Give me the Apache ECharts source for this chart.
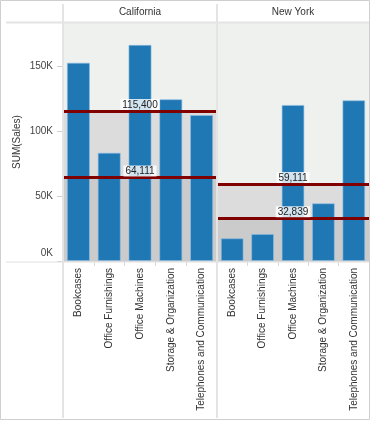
<!DOCTYPE html>
<html>
<head>
<meta charset="utf-8">
<script src="https://cdn.jsdelivr.net/npm/echarts@6/dist/echarts.min.js"></script>
<style>
html,body{margin:0;padding:0;background:#fff;}
#chart{width:372px;height:421px;}
</style>
</head>
<body>
<div id="chart"></div>
<script>
const categories = ['Bookcases', 'Office Furnishings', 'Office Machines', 'Storage & Organization', 'Telephones and Communication'];
const regions = ['California', 'New York'];
const californiaSales = [152500, 83300, 166200, 124400, 112300];
const newYorkSales = [17500, 20800, 120000, 44400, 123600];
const californiaRefLines = [115400, 64111];
const newYorkRefLines = [59111, 32839];
const yAxisTitle = 'SUM(Sales)';
const yMin = 0, yMax = 183000, yStep = 50000;

const FONT = 'Arial, "Liberation Sans", sans-serif';
const salesByRegion = [californiaSales, newYorkSales];
const refByRegion = [californiaRefLines, newYorkRefLines];
const gridLeft = [63, 217], gridWidth = [154, 152];

const fmt = v => Math.round(v).toLocaleString('en-US');

const option = {
  animation: false,
  textStyle: { fontFamily: FONT },
  grid: regions.map((r, i) => ({
    left: gridLeft[i], width: gridWidth[i], top: 23, bottom: 160,
    show: true, backgroundColor: '#eef1ee', borderWidth: 0
  })),
  xAxis: regions.map((r, i) => ({
    type: 'category', gridIndex: i, data: categories,
    axisLine: { show: true, lineStyle: { color: '#d9d9d9', width: 1 } },
    axisTick: { show: true, length: 5, lineStyle: { color: '#d9d9d9' } },
    axisLabel: { rotate: 90, interval: 0, fontSize: 10, color: '#333', margin: 7, fontFamily: FONT },
    splitLine: { show: false }
  })),
  yAxis: regions.map((r, i) => ({
    type: 'value', gridIndex: i, min: yMin, max: yMax, interval: yStep,
    show: i === 0,
    name: i === 0 ? yAxisTitle : '',
    nameLocation: 'middle', nameGap: 41, nameRotate: 90,
    nameTextStyle: { fontSize: 10, color: '#333', fontFamily: FONT },
    axisLine: { show: false },
    axisTick: { show: true, length: 6, lineStyle: { color: '#d0d0d0' } },
    axisLabel: {
      showMaxLabel: false, fontSize: 10, color: '#444', margin: 10, fontFamily: FONT,
      formatter: v => v === 0 ? '{z|0K}' : (v / 1000) + 'K',
      rich: { z: { padding: [0, 0, 16, 0], fontSize: 10, color: '#444', fontFamily: FONT } }
    },
    splitLine: { show: false }
  })),
  series: regions.map((r, i) => {
    const refs = refByRegion[i];
    const hi = Math.max(...refs), lo = Math.min(...refs);
    return {
      type: 'bar', name: r, xAxisIndex: i, yAxisIndex: i,
      data: salesByRegion[i],
      barCategoryGap: '25%',
      itemStyle: { color: '#1f77b4', borderColor: 'rgba(140,190,230,0.6)', borderWidth: 1 },
      markArea: {
        silent: true,
        data: [
          [{ yAxis: yMin, itemStyle: { color: '#cbcbcb' } }, { yAxis: lo }],
          [{ yAxis: lo, itemStyle: { color: '#dcdcdc' } }, { yAxis: hi }]
        ]
      },
      markLine: {
        silent: true, symbol: 'none',
        lineStyle: { color: '#800000', width: 3, type: 'solid' },
        label: {
          position: 'middle', formatter: p => fmt(p.value),
          fontSize: 10, color: '#222', fontFamily: FONT,
          backgroundColor: 'rgba(255,255,255,0.8)', padding: [1, 2, 0, 2], distance: 1
        },
        data: refs.map(v => ({ yAxis: v }))
      }
    };
  }),
  graphic: [
    { type: 'rect', silent: true, z: 100, shape: { x: 0.5, y: 0.5, width: 369, height: 419 },
      style: { fill: 'none', stroke: '#cfcfcf', lineWidth: 1 } },
    { type: 'line', silent: true, z: 50, shape: { x1: 6, y1: 22.5, x2: 369, y2: 22.5 },
      style: { stroke: '#e4e4e4', lineWidth: 2 } },
    { type: 'line', silent: true, z: 50, shape: { x1: 6, y1: 262, x2: 369, y2: 262 },
      style: { stroke: '#e0e0e0', lineWidth: 1 } },
    { type: 'line', silent: true, z: 50, shape: { x1: 63, y1: 4, x2: 63, y2: 418 },
      style: { stroke: '#e4e4e4', lineWidth: 2 } },
    { type: 'line', silent: true, z: 50, shape: { x1: 217, y1: 4, x2: 217, y2: 418 },
      style: { stroke: '#e4e4e4', lineWidth: 2 } },
    ...regions.map((r, i) => ({
      type: 'text', silent: true, z: 60,
      style: { text: r, x: gridLeft[i] + gridWidth[i] / 2, y: 12, align: 'center', verticalAlign: 'middle',
        fontSize: 10, fill: '#333', fontFamily: FONT }
    }))
  ]
};

const chart = echarts.init(document.getElementById('chart'), null, { renderer: 'canvas' });
chart.setOption(option);
</script>
</body>
</html>
